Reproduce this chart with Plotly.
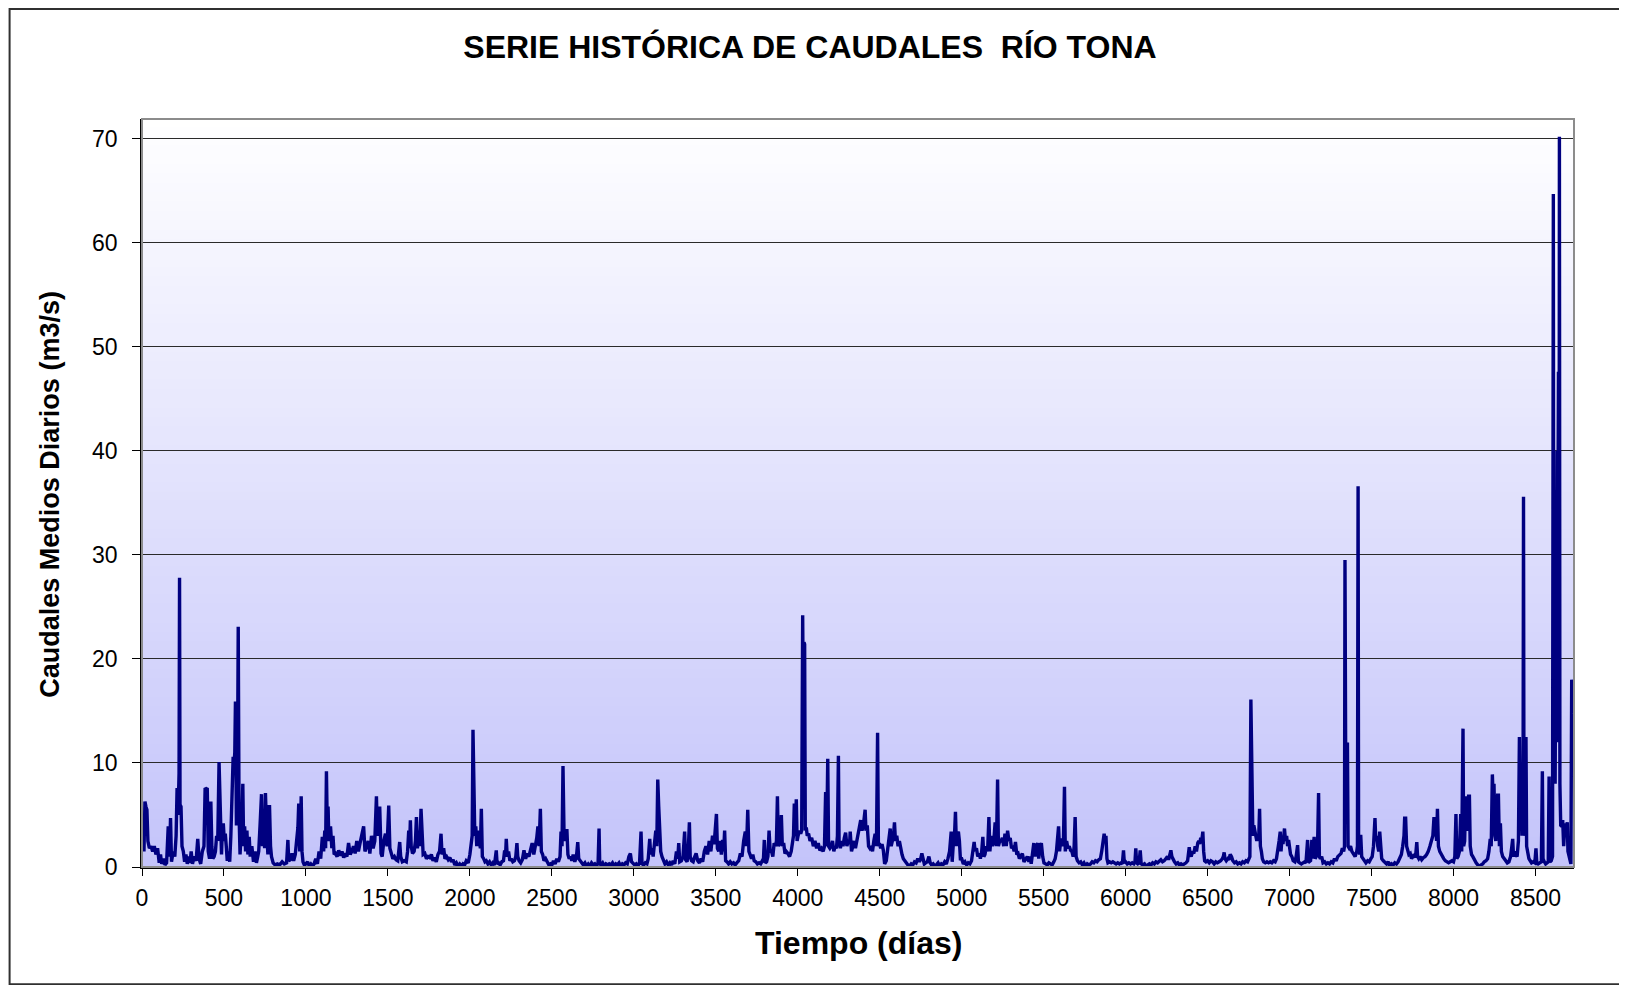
import plotly.graph_objects as go

# ---------------- data ----------------
dias = [
0,5,12,18,24,30,36,45,55,65,75,85,95,105,113,120,130,140,150,160,168,174,180,190,200,208,214,220,226,229,232,238,244,252,260,268,276,285,293,300,308,318,330,340,348,358,368,378,385,392,398,404,412,420,426,432,440,448,455,462,470,474,480,485,490,496,502,508,514,520,528,535,542,550,556,562,566,570,576,582,587,592,598,604,610,615,620,626,632,640,646,654,660,670,680,690,698,706,712,720,729,735,742,748,753,760,768,774,778,784,790,800,812,825,840,855,868,882,890,895,905,915,925,935,945,951,956,962,968,971,976,982,990,1000,1010,1020,1030,1040,1050,1060,1070,1080,1090,1100,1108,1115,1120,1125,1130,1135,1140,1150,1158,1165,1172,1180,1190,1200,1210,1220,1230,1240,1250,1260,1270,1280,1290,1300,1310,1320,1330,1340,1352,1360,1370,1380,1390,1400,1410,
1420,1430,1436,1442,1450,1458,1465,1475,1485,1495,1505,1512,1520,1530,1540,1550,1560,1566,1572,1578,1588,1600,1612,1620,1627,1632,1637,1642,1650,1660,1668,1674,1680,1688,1695,1702,1708,1715,1725,1735,1745,1755,1765,1775,1785,1795,1805,1815,1824,1830,1840,1848,1858,1868,1878,1888,1898,1908,1918,1928,1938,1948,1958,1968,1978,1990,2000,2008,2014,2019,2024,2030,2036,2042,2050,2058,2064,2070,2076,2084,2092,2100,2110,2120,2130,2140,2150,2161,2166,2175,2185,2195,2205,2212,2218,2222,2228,2236,2244,2252,2262,2272,2280,2287,2292,2300,2310,2320,2330,2340,2350,2360,2370,2380,2390,2400,2408,2415,2422,2430,2436,2444,2452,2462,2472,2482,2492,2500,2510,2520,2530,2540,2550,2556,2562,2568,2574,2580,2586,2592,2598,2606,2614,2622,2630,2640,2650,2658,2664,2672,2682,2692,2702,2712,2722,2732,2742,2752,2762,2772,2782,2788,2792,2800,2810,2820,2830,2840,2850,
2860,2870,2880,2890,2900,2910,2920,2930,2940,2950,2960,2970,2979,2986,2995,3005,3015,3025,3035,3044,3050,3060,3070,3080,3088,3097,3103,3110,3118,3126,3134,3140,3146,3152,3158,3164,3172,3180,3190,3200,3210,3220,3230,3240,3250,3260,3268,3274,3280,3290,3300,3310,3316,3325,3332,3339,3344,3352,3362,3372,3380,3390,3400,3410,3420,3430,3440,3450,3460,3470,3480,3490,3497,3504,3510,3518,3526,3534,3542,3548,3554,3560,3568,3578,3588,3598,3608,3618,3628,3640,3650,3660,3670,3680,3688,3695,3702,3710,3718,3726,3734,3744,3754,3764,3774,3784,3790,3796,3802,3810,3818,3825,3832,3840,3848,3856,3864,3870,3876,3882,3890,3895,3900,3906,3914,3922,3930,3940,3950,3960,3968,3974,3979,3985,3991,3996,4002,4010,4018,4024,4030,4034,4038,4042,4046,4052,4058,4066,4075,4085,4095,4105,4115,4125,4135,4145,4155,4163,4170,4176,4183,4188,4196,4204,4212,4220,4228,4236,4242,4248,4252,4260,4268,4276,4284,4292,4300,4308,4316,
4320,4328,4336,4344,4352,4360,4368,4376,4384,4392,4400,4406,4411,4416,4424,4432,4440,4448,4456,4464,4472,4480,4487,4492,4498,4506,4514,4522,4530,4540,4550,4558,4564,4570,4578,4584,4590,4596,4604,4612,4620,4628,4636,4644,4652,4662,4672,4682,4692,4702,4712,4722,4732,4742,4750,4757,4764,4772,4780,4790,4800,4808,4816,4826,4836,4846,4856,4866,4876,4886,4896,4906,4916,4926,4936,4942,4950,4956,4962,4968,4974,4980,4986,4992,5000,5010,5020,5030,5040,5050,5060,5070,5076,5082,5090,5098,5106,5114,5122,5129,5135,5142,5150,5158,5166,5172,5180,5188,5196,5204,5212,5219,5224,5232,5240,5248,5256,5264,5272,5280,5288,5296,5304,5312,5320,5328,5336,5344,5352,5360,5370,5380,5390,5400,5410,5418,5424,5432,5440,5448,5456,5464,5470,5478,5486,5494,5502,5512,5522,5532,5542,5552,5562,5570,5578,5585,5591,5597,5604,5612,5620,5627,5632,5640,5648,5656,5664,5672,5680,5686,5692,5698,5706,5716,5726,5736,5746,5756,5766,5776,
5786,5796,5806,5816,5826,5836,5846,5854,5860,5866,5869,5874,5880,5886,5892,5902,5912,5922,5932,5942,5952,5962,5972,5980,5987,5992,6000,6010,6020,6030,6040,6050,6057,6062,6067,6074,6082,6089,6095,6105,6115,6125,6135,6145,6155,6165,6175,6185,6195,6205,6215,6225,6235,6245,6255,6262,6270,6276,6282,6290,6298,6308,6318,6328,6338,6348,6358,6368,6378,6388,6394,6400,6408,6416,6424,6432,6440,6446,6452,6458,6464,6471,6476,6482,6490,6500,6510,6520,6530,6540,6550,6560,6570,6580,6590,6596,6601,6606,6614,6624,6630,6638,6646,6654,6664,6674,6684,6694,6704,6714,6724,6734,6744,6752,6758,6764,6768,6772,6776,6782,6788,6794,6800,6806,6812,6817,6822,6828,6834,6842,6852,6862,6872,6882,6892,6902,6912,6920,6928,6936,6943,6948,6954,6960,6969,6975,6982,6988,6994,7000,7006,7014,7022,7032,7040,7049,7054,7062,7072,7082,7092,7100,7106,7110,7114,7120,7128,7136,7140,7146,7150,7156,7162,7170,7177,7182,7188,7196,7204,7214,7224,7234,7244,
7254,7264,7274,7284,7294,7304,7314,7322,7330,7335,7338,7342,7346,7353,7357,7364,7372,7380,7390,7400,7410,7414,7418,7421,7428,7434,7440,7448,7456,7466,7476,7486,7496,7504,7512,7517,7521,7526,7532,7538,7544,7550,7556,7562,7572,7582,7592,7602,7612,7622,7632,7642,7652,7662,7672,7682,7690,7698,7702,7708,7714,7720,7728,7736,7744,7752,7760,7768,7776,7781,7788,7796,7806,7816,7826,7836,7846,7856,7866,7874,7881,7886,7892,7897,7902,7908,7916,7924,7932,7940,7950,7960,7970,7980,7990,8000,8008,8015,8020,8028,8036,8044,8050,8058,8062,8068,8074,8080,8086,8092,8097,8102,8110,8118,8128,8138,8148,8158,8168,8178,8188,8198,8208,8216,8224,8230,8237,8242,8247,8252,8258,8264,8269,8274,8280,8286,8292,8300,8308,8318,8328,8338,8348,8356,8361,8366,8372,8380,8388,8396,8402,8406,8412,8418,8424,8427,8430,8436,8442,8446,8452,8460,8468,8476,8486,8496,8503,8508,8516,8526,8536,8542,8546,8554,8562,8570,8578,8583,8588,8596,8604,8609,8612,8616,8620,8624,8628,8632,8636,8640,8644,8646,8649,8654,8660,8666,8672,8680,8686,8694,8698,8704,8710,8716,8721,8726,8730,8735,
]

caudales = [
2.0,3.0,1.5,6.3,5.8,5.5,2.5,1.8,2.0,1.5,2.0,1.2,1.8,0.4,1.2,0.3,0.8,0.2,0.4,3.9,1.0,4.7,0.5,1.5,1.0,3.0,7.6,5.0,9.0,27.8,6.0,5.8,2.0,1.5,0.5,1.2,0.3,1.0,0.4,1.5,0.3,1.0,0.6,2.7,0.8,0.3,1.5,2.0,7.6,7.5,7.6,1.5,0.8,6.3,2.0,0.8,1.0,1.5,3.0,2.5,10.1,8.0,4.0,1.2,3.5,4.2,2.5,3.2,2.0,0.6,1.5,0.5,3.0,7.7,10.6,10.0,11.0,15.9,4.0,8.0,23.1,5.1,1.2,3.0,4.5,8.0,2.0,3.9,1.5,3.5,1.2,2.9,1.0,2.0,0.5,1.5,0.4,1.0,1.5,4.0,7.0,2.0,4.5,1.8,7.1,3.5,1.2,5.8,5.8,2.0,1.0,0.4,0.2,0.3,0.2,0.5,0.3,0.4,2.6,0.6,0.7,1.3,0.6,1.2,2.5,3.8,6.1,1.5,4.0,6.8,1.5,0.5,0.2,0.3,0.5,0.1,0.3,0.1,0.3,0.8,0.3,1.5,0.8,2.9,1.5,3.5,1.8,9.2,4.0,5.8,2.5,3.9,1.8,3.0,1.2,1.3,1.0,1.6,1.1,1.5,0.9,1.3,1.0,2.3,1.2,1.5,2.0,1.3,2.5,1.5,2.3,3.0,3.9,1.5,2.0,2.5,1.3,3.0,1.8,
2.5,6.8,3.0,4.0,5.8,1.3,1.0,2.5,3.2,2.0,5.9,1.8,1.2,0.8,1.0,0.7,0.6,1.5,2.4,1.0,0.5,0.6,0.5,1.5,3.5,1.8,4.5,2.0,1.3,1.5,2.5,4.8,1.8,3.5,2.0,5.6,2.5,1.2,1.3,0.8,1.0,0.9,1.2,0.6,0.9,0.5,1.2,1.5,3.2,1.2,1.8,0.8,1.0,0.7,0.9,0.5,0.7,0.2,0.4,0.1,0.3,0.1,0.3,0.2,0.6,0.4,1.2,2.3,3.0,13.2,9.0,3.0,3.9,2.0,3.5,2.5,1.8,5.6,1.0,0.8,0.5,0.6,0.3,0.5,0.2,0.4,0.2,1.6,0.3,0.4,0.2,0.5,0.6,1.6,1.2,2.7,1.0,1.5,0.6,0.8,0.5,0.6,1.0,2.3,1.0,0.6,0.4,0.7,1.6,0.8,1.3,1.0,1.6,2.3,1.2,2.0,2.8,3.9,2.0,5.6,1.5,1.2,0.6,0.8,0.5,0.2,0.3,0.2,0.6,0.3,0.8,0.5,1.0,3.4,2.0,9.7,3.5,2.5,3.5,3.5,1.2,0.8,1.0,0.6,1.2,0.5,1.0,2.4,0.8,0.6,0.3,0.2,0.4,0.1,0.3,0.1,0.4,0.2,0.3,0.1,0.4,3.7,0.3,0.2,0.4,0.1,0.3,0.2,0.3,
0.2,0.4,0.1,0.3,0.2,0.4,0.1,0.3,0.2,0.4,0.3,1.0,1.3,0.5,0.3,0.2,0.3,0.1,0.4,3.4,0.3,0.2,0.4,0.3,0.8,2.7,1.2,1.8,1.0,2.5,3.5,2.0,8.4,5.8,2.5,1.5,1.0,0.6,0.3,0.5,0.2,0.4,0.2,0.6,0.3,1.5,0.8,2.3,0.5,0.6,1.0,3.4,0.7,0.5,1.5,4.3,1.0,0.6,0.5,1.0,1.3,0.6,0.4,0.8,0.5,1.5,2.0,1.2,2.5,1.5,3.0,2.2,3.5,5.1,1.8,1.5,2.5,1.2,2.6,1.5,3.5,0.6,0.5,0.3,0.5,0.3,0.4,0.2,0.4,0.6,1.3,1.0,2.5,3.4,2.0,5.5,1.5,1.2,0.8,1.2,0.6,0.5,0.3,0.4,0.3,0.6,0.5,2.6,0.4,0.5,1.0,3.5,1.5,1.5,1.0,2.3,2.0,2.5,6.8,2.0,2.3,3.0,5.0,2.0,2.3,1.3,1.5,1.3,1.0,1.5,2.5,3.0,6.1,3.0,6.5,2.5,3.0,3.5,3.2,3.5,24.2,15.0,21.6,21.4,3.5,3.8,3.0,3.2,2.5,2.8,2.0,2.5,1.8,2.3,1.6,1.8,1.5,2.0,7.2,2.0,10.4,2.0,1.8,2.0,2.5,1.5,2.0,1.8,3.0,10.7,2.5,1.8,2.5,2.0,2.8,3.3,2.0,2.6,2.2,
3.4,1.5,2.0,2.5,1.8,2.5,3.0,4.0,4.5,3.5,4.0,4.8,5.5,3.5,4.0,2.0,1.8,2.0,1.5,2.5,3.2,2.0,12.9,2.0,2.3,1.8,2.2,1.6,0.3,0.6,2.0,2.5,3.7,2.0,2.8,3.0,4.3,2.5,3.0,2.0,2.5,1.6,1.2,0.8,0.6,0.3,0.2,0.1,0.3,0.2,0.5,0.4,0.8,0.5,0.8,1.3,0.6,0.3,0.4,0.5,1.0,0.4,0.2,0.3,0.1,0.2,0.4,0.1,0.3,0.2,0.5,0.3,0.8,1.5,3.4,0.5,2.5,3.0,5.3,2.0,3.2,3.4,2.5,0.8,0.8,0.3,0.5,0.2,0.4,0.3,0.6,1.5,2.4,1.5,1.8,1.0,1.3,0.8,1.5,2.9,1.0,1.2,2.0,1.5,4.8,1.5,3.0,2.0,2.5,4.3,2.0,8.4,2.0,2.5,2.5,2.8,2.0,3.2,2.0,3.5,2.5,2.8,1.8,2.0,1.5,2.4,1.2,1.3,0.8,1.0,1.3,0.5,0.8,1.0,0.5,1.0,0.3,1.5,2.3,1.0,2.0,2.3,0.8,2.0,2.3,1.0,0.4,0.3,0.2,0.4,0.3,0.2,0.5,0.8,1.5,2.5,3.9,1.5,2.5,2.7,2.0,7.7,1.5,2.5,1.8,2.0,1.6,1.5,1.0,2.0,4.8,1.0,0.6,0.4,0.5,0.2,0.4,0.1,0.3,0.2,
0.3,0.5,0.4,0.6,0.5,0.7,0.8,1.5,2.3,2.8,3.2,2.5,3.0,0.8,0.4,0.5,0.4,0.5,0.4,0.3,0.4,0.3,0.4,0.3,1.6,0.4,0.5,0.3,0.4,0.3,0.4,0.3,0.5,1.8,0.4,0.3,0.4,1.6,0.3,0.2,0.3,0.1,0.2,0.3,0.2,0.4,0.3,0.5,0.4,0.6,0.7,0.5,0.6,0.8,1.0,0.7,1.2,1.6,1.0,0.7,0.5,0.3,0.4,0.2,0.3,0.2,0.3,0.4,0.6,1.9,1.2,1.0,1.5,1.3,2.0,1.5,2.3,2.5,2.2,2.8,2.5,3.4,1.5,0.6,0.5,0.6,0.4,0.6,0.5,0.3,0.5,0.4,0.5,0.6,0.8,1.0,1.4,0.8,0.6,0.8,0.7,1.2,1.0,0.6,0.4,0.5,0.3,0.4,0.3,0.5,0.4,0.6,0.5,0.8,1.0,16.1,10.0,9.0,3.0,4.0,3.5,3.2,2.5,3.0,2.8,5.6,2.0,1.5,0.8,0.5,0.4,0.5,0.4,0.5,0.4,0.6,0.5,0.8,1.5,2.5,3.4,1.5,2.8,2.2,3.7,2.5,3.0,2.0,2.6,1.5,1.2,1.0,0.6,0.5,1.0,2.1,0.5,0.4,0.3,0.4,0.5,0.4,1.5,2.6,0.6,0.5,0.6,2.6,0.8,1.8,2.9,0.8,1.0,1.5,7.1,1.0,0.8,1.0,0.4,0.5,0.3,0.4,0.3,
0.5,0.4,0.8,0.6,1.0,1.2,1.3,1.8,1.5,2.0,29.5,12.0,11.8,11.8,2.0,1.8,2.0,1.5,1.2,1.0,1.5,2.0,36.6,2.5,1.2,3.1,1.0,0.8,0.5,0.4,0.6,0.5,0.8,1.0,2.0,3.0,4.7,2.5,3.0,2.0,1.5,3.4,1.5,0.8,0.6,0.4,0.3,0.5,0.1,0.3,0.2,0.4,0.3,0.5,0.8,1.2,2.0,3.0,4.7,4.7,2.0,1.5,1.2,1.3,0.8,1.0,1.2,0.9,2.4,1.0,0.8,1.0,0.7,0.9,1.0,1.2,1.5,2.0,2.5,3.0,4.8,3.0,3.5,2.5,5.6,2.0,1.5,1.2,1.0,0.8,0.6,0.5,0.4,0.5,0.6,0.5,1.0,5.1,0.8,1.0,1.5,5.1,1.5,13.3,2.0,2.5,6.8,3.5,4.0,6.8,6.8,2.0,1.2,1.0,0.6,0.4,0.2,0.1,0.2,0.3,0.5,0.6,0.8,1.5,2.7,2.0,8.9,6.5,8.0,3.0,2.5,5.0,6.9,6.9,2.0,4.2,1.5,1.0,0.8,0.6,0.4,0.5,1.0,2.0,2.7,1.0,1.5,1.2,1.0,2.5,12.5,7.0,8.0,3.0,5.0,35.6,3.0,4.0,12.5,2.0,1.5,0.8,0.6,0.4,0.5,0.4,1.8,0.4,0.3,0.4,0.5,9.2,0.8,0.5,0.3,0.4,0.5,8.7,0.5,0.6,1.0,64.7,10.0,18.0,8.0,25.0,12.0,40.0,30.0,47.6,20.0,70.2,8.0,4.0,3.9,4.5,2.0,4.2,3.0,4.3,1.5,1.0,0.5,0.3,18.0,17.0,15.0,14.8,
]

titulo = "SERIE HISTÓRICA DE CAUDALES\u00a0 RÍO TONA"
titulo_x = "Tiempo (días)"
titulo_y = "Caudales Medios Diarios (m3/s)"

# ---------------- layout geometry ----------------
OFF = 8                      # default body margin of the html page
W, H = 1627 - OFF, 985 - OFF  # figure size so that it ends at the window edge
# plot-area edges in page pixels
PL, PR, PT, PB = 141.5, 1574.5, 119, 866.7
ML = PL - OFF
MT = PT - OFF
MR = (1627 - PR)
MB = (985 - PB)
PW, PH = W - ML - MR, H - MT - MB
FONT = "Liberation Sans, Arial, sans-serif"


def px_to_paper_x(x_page):
    return (x_page - OFF - ML) / PW


def px_to_paper_y(y_page):
    return (H - (y_page - OFF) - MB) / PH


fig = go.Figure()
fig.add_trace(go.Scatter(x=dias, y=caudales, mode="lines",
                         line=dict(color="#000080", width=3.4), hoverinfo="x+y",
                         showlegend=False))

shapes = []
# vertical gradient background (white at top -> lavender at bottom)
n = 80
top = (255, 255, 255)
bot = (196, 196, 250)
for i in range(n):
    t = (i + 0.5) / n
    c = tuple(round(top[k] + (bot[k] - top[k]) * t) for k in range(3))
    shapes.append(dict(type="rect", xref="paper", yref="paper",
                       x0=0, x1=1, y0=1 - (i + 1) / n, y1=1 - i / n + 0.002,
                       fillcolor="rgb(%d,%d,%d)" % c, line=dict(width=0), layer="below"))
# plot-area border (gray)
shapes.append(dict(type="rect", xref="paper", yref="paper", x0=0, x1=1, y0=0, y1=1,
                   line=dict(color="#8c8c8c", width=2), fillcolor="rgba(0,0,0,0)", layer="above"))
# chart outer border
shapes.append(dict(type="rect", xref="paper", yref="paper",
                   x0=(1 - ML) / PW, x1=(W - 1 - ML) / PW,
                   y0=(1 - MB) / PH, y1=(H - 1 - MB) / PH,
                   line=dict(color="#303030", width=2), fillcolor="rgba(0,0,0,0)", layer="above"))

fig.update_layout(
    width=W, height=H,
    margin=dict(l=ML, r=MR, t=MT, b=MB, autoexpand=False),
    paper_bgcolor="white", plot_bgcolor="rgba(0,0,0,0)",
    font=dict(family=FONT, color="black"),
    shapes=shapes,
    title=dict(text="<b>%s</b>" % titulo, x=(810 - OFF) / W, xanchor="center", xref="container",
               y=1 - (47 - OFF) / H, yanchor="middle", yref="container",
               font=dict(size=32, family=FONT, color="black")),
    annotations=[
        dict(text="<b>%s</b>" % titulo_x, xref="paper", yref="paper", x=0.5,
             y=px_to_paper_y(943), xanchor="center", yanchor="middle", showarrow=False,
             font=dict(size=32, family=FONT, color="black")),
        dict(text="<b>%s</b>" % titulo_y, xref="paper", yref="paper", x=px_to_paper_x(50),
             y=px_to_paper_y(494), xanchor="center", yanchor="middle", showarrow=False,
             textangle=-90, font=dict(size=27, family=FONT, color="black")),
    ],
    xaxis=dict(range=[0, 8735], tick0=0, dtick=500, showgrid=False, zeroline=False,
               showline=True, linecolor="black", linewidth=1.5,
               ticks="outside", ticklen=7, tickcolor="black", tickwidth=1,
               tickfont=dict(size=23, family=FONT, color="black"),
               ticklabelstandoff=3),
    yaxis=dict(range=[0, 71.9], tick0=0, dtick=10, showgrid=True, gridcolor="#2a2a2a",
               gridwidth=1, zeroline=False,
               showline=True, linecolor="black", linewidth=1.5,
               ticks="outside", ticklen=8, tickcolor="black", tickwidth=1,
               tickfont=dict(size=23, family=FONT, color="black"),
               ticklabelstandoff=10),
)

fig.write_html("out.html")
